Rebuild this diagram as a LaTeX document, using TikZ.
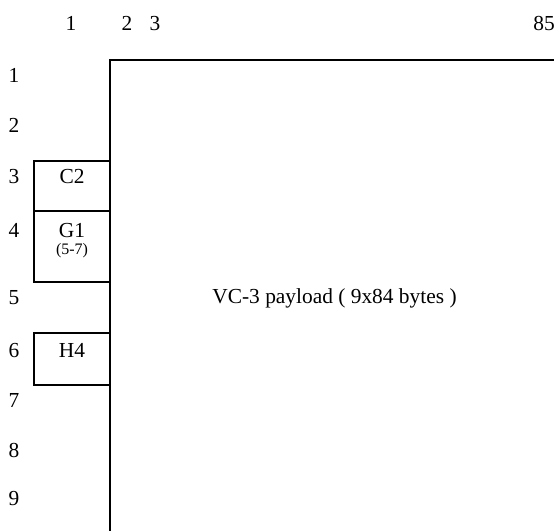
\documentclass[tikz,border=0pt]{standalone}
\usepackage{fontspec}
\setmainfont{Liberation Serif}
\begin{document}
\begin{tikzpicture}[x=1pt,y=-1pt,
  lbl/.style={inner sep=0pt,anchor=base,font=\fontsize{21.4}{25}\selectfont},
  small/.style={inner sep=0pt,anchor=center,font=\fontsize{16}{18}\selectfont},
  frame/.style={draw=black,line width=2pt}]
\useasboundingbox (0,0) rectangle (554,530);
% column labels
\node[lbl] (c1) at (71,30) {1};
\node[lbl] (c2) at (127,30) {2};
\node[lbl] (c3) at (155,30) {3};
\node[lbl] (c85) at (544,30) {85};
% row labels
\node[lbl] (r1) at (14,82) {1};
\node[lbl] (r2) at (14,132) {2};
\node[lbl] (r3) at (14,183) {3};
\node[lbl] (r4) at (14,237) {4};
\node[lbl] (r5) at (14,304) {5};
\node[lbl] (r6) at (14,357) {6};
\node[lbl] (r7) at (14,407) {7};
\node[lbl] (r8) at (14,457) {8};
\node[lbl] (r9) at (14,505) {9};
% main frame
\draw[frame] (110,531) -- (110,60) -- (555,60);
% overhead boxes
\draw[frame] (110,161) -- (34,161) -- (34,282) -- (110,282);
\draw[frame] (34,211) -- (110,211);
\draw[frame] (110,333) -- (34,333) -- (34,385) -- (110,385);
\node[lbl] (C2) at (72,183) {C2};
\node[lbl] (G1) at (72,237) {G1};
\node[small] (G1s) at (72,251) {(5-7)};
\node[lbl] (H4) at (72,357) {H4};
\node[lbl] (pay) at (334.5,303) {VC-3 payload ( 9x84 bytes )};
\end{tikzpicture}
\end{document}
